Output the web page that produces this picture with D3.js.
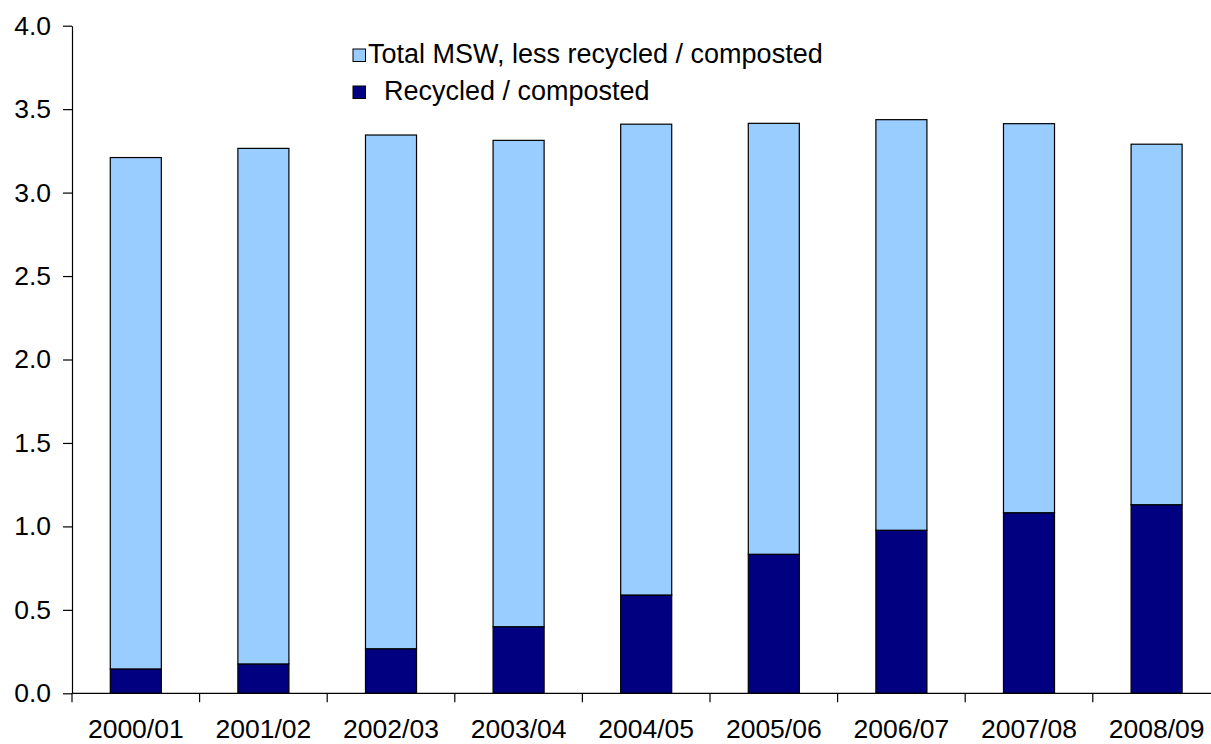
<!DOCTYPE html>
<html>
<head>
<meta charset="utf-8">
<script src="https://cdn.jsdelivr.net/npm/d3@7"></script>
<style>
  html, body { margin: 0; padding: 0; background: #fff; }
  svg { display: block; font-family: "Liberation Sans", Arial, sans-serif; }
</style>
</head>
<body>
<svg id="chart" width="1211" height="744"></svg>
<script>
const categories = ["2000/01","2001/02","2002/03","2003/04","2004/05","2005/06","2006/07","2007/08","2008/09"];
const recycled = [0.146, 0.176, 0.267, 0.399, 0.589, 0.833, 0.977, 1.082, 1.13];
const residual = [3.064, 3.089, 3.078, 2.914, 2.821, 2.582, 2.46, 2.331, 2.16];
const seriesNames = ["Recycled / composted", "Total MSW, less recycled / composted"];
const seriesColors = ["#000080", "#99CCFF"];
const yTicks = [0, 0.5, 1.0, 1.5, 2.0, 2.5, 3.0, 3.5, 4.0];

(function () {
const svg = d3.select("#chart");
const pLeft = 72, pTop = 25.7, pBottom = 693.3, step = 127.6;
const pRight = pLeft + step * categories.length;
const fs = 26.5;

const x = d3.scaleBand().domain(categories).range([pLeft, pRight]).paddingInner(0.6).paddingOuter(0.3);
const y = d3.scaleLinear().domain([0, 4]).range([pBottom, pTop]);

const rows = categories.map((c, i) => ({cat: c, recycled: recycled[i], residual: residual[i]}));
const stack = d3.stack().keys(["recycled", "residual"])(rows);

svg.append("g").selectAll("g").data(stack).join("g")
  .attr("fill", (d, i) => seriesColors[i])
  .selectAll("rect").data(d => d).join("rect")
  .attr("x", d => x(d.data.cat))
  .attr("width", x.bandwidth())
  .attr("y", d => y(d[1]))
  .attr("height", d => y(d[0]) - y(d[1]))
  .attr("stroke", "#000")
  .attr("stroke-width", 1.2);

// Y axis
const yAxis = svg.append("g").attr("transform", `translate(${pLeft},0)`)
  .call(d3.axisLeft(y).tickValues(yTicks).tickFormat(d3.format(".1f")).tickSize(9).tickSizeOuter(0).tickPadding(12));
yAxis.selectAll("text").attr("font-size", fs).attr("fill", "#000").attr("font-family", "Liberation Sans, Arial, sans-serif");
yAxis.selectAll("line, path").attr("stroke", "#000").attr("stroke-width", 1.2);

// X axis: labels at centers
const xAxis = svg.append("g").attr("transform", `translate(0,${pBottom})`)
  .call(d3.axisBottom(x).tickSize(0));
xAxis.select("path.domain").remove();
xAxis.selectAll("text").attr("font-size", fs).attr("fill", "#000")
  .attr("font-family", "Liberation Sans, Arial, sans-serif")
  .attr("dy", null).attr("y", 44.8);

// X axis line and boundary ticks
svg.append("line").attr("x1", pLeft).attr("x2", pRight).attr("y1", pBottom).attr("y2", pBottom)
  .attr("stroke", "#000").attr("stroke-width", 1.2);
svg.append("g").selectAll("line").data(d3.range(categories.length + 1)).join("line")
  .attr("x1", i => pLeft + i * x.step()).attr("x2", i => pLeft + i * x.step())
  .attr("y1", pBottom).attr("y2", pBottom + 9)
  .attr("stroke", "#000").attr("stroke-width", 1.2);

// Legend
const legendItems = [
  {name: seriesNames[1], color: seriesColors[1], sy: 49, base: 62.5, tx: 368},
  {name: seriesNames[0], color: seriesColors[0], sy: 86, base: 99.5, tx: 384}
];
const lg = svg.append("g");
lg.selectAll("rect").data(legendItems).join("rect")
  .attr("x", 353).attr("y", d => d.sy).attr("width", 12.5).attr("height", 12.5)
  .attr("fill", d => d.color).attr("stroke", "#000").attr("stroke-width", 1);
lg.selectAll("text").data(legendItems).join("text")
  .attr("x", d => d.tx).attr("y", d => d.base)
  .attr("font-size", 27).attr("fill", "#000")
  .text(d => d.name);
})();
</script>
</body>
</html>
